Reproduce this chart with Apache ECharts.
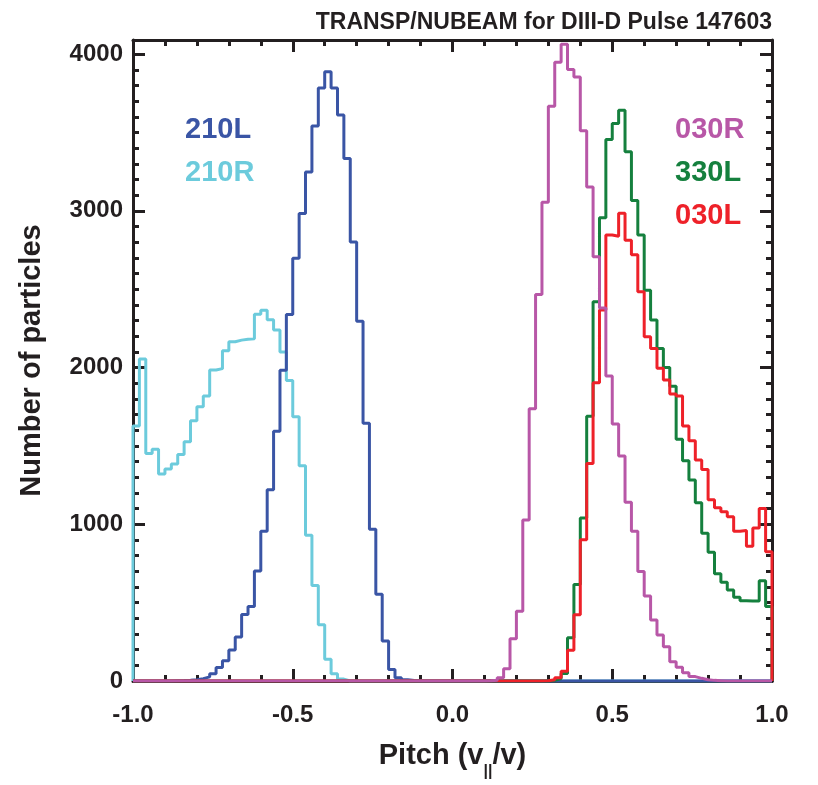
<!DOCTYPE html>
<html>
<head>
<meta charset="utf-8">
<script src="https://cdn.jsdelivr.net/npm/echarts@6/dist/echarts.min.js"></script>
<style>
html,body{margin:0;padding:0;background:#ffffff;}
#chart{width:818px;height:785px;}
</style>
</head>
<body>
<div id="chart"></div>
<script>
// ---- histogram binning (pitch from -1 to 1, 100 bins) ----
const binStart = -1.0;
const binWidth = 0.02;
const xTickLabels = ['-1.0', '-0.5', '0.0', '0.5', '1.0'];
const yTickLabels = ['0', '1000', '2000', '3000', '4000'];
const seriesNames = ['210R', '210L', '330L', '030L', '030R'];

// ---- counts per bin (index 0 = [-1.00,-0.98]) ----
const counts210R = [
  1627, 2054, 1452, 1478, 1321, 1352, 1384, 1446, 1527, 1661,
  1750, 1818, 1984, 1993, 2107, 2165, 2175, 2180, 2183, 2340,
  2365, 2305, 2240, 2100, 1918, 1686, 1373, 930, 610, 359,
  138, 47, 12, 0, 0, 0, 0, 0, 0, 0,
  0, 0, 0, 0, 0, 0, 0, 0, 0, 0,
  0, 0, 0, 0, 0, 0, 0, 0, 0, 0,
  0, 0, 0, 0, 0, 0, 0, 0, 0, 0,
  0, 0, 0, 0, 0, 0, 0, 0, 0, 0,
  0, 0, 0, 0, 0, 0, 0, 0, 0, 0,
  0, 0, 0, 0, 0, 0, 0, 0, 0, 0
];
const counts210L = [
  0, 0, 0, 0, 0, 0, 2, 3, 5, 8,
  15, 26, 47, 86, 130, 198, 281, 424, 476, 702,
  956, 1221, 1593, 1983, 2339, 2697, 2983, 3248, 3542, 3784,
  3888, 3784, 3612, 3334, 2801, 2295, 1645, 969, 554, 255,
  73, 21, 8, 3, 0, 0, 0, 0, 0, 0,
  0, 0, 0, 0, 0, 0, 0, 0, 0, 0,
  0, 0, 0, 0, 0, 0, 0, 0, 0, 0,
  0, 0, 0, 0, 0, 0, 0, 0, 0, 0,
  0, 0, 0, 0, 0, 0, 0, 0, 0, 0,
  0, 0, 0, 0, 0, 0, 0, 0, 0, 0
];
const counts030R = [
  0, 0, 0, 0, 0, 0, 0, 0, 0, 0,
  0, 0, 0, 0, 0, 0, 0, 0, 0, 0,
  0, 0, 0, 0, 0, 0, 0, 0, 0, 0,
  0, 0, 0, 0, 0, 0, 0, 0, 0, 0,
  0, 0, 0, 0, 0, 0, 0, 0, 0, 0,
  0, 0, 0, 0, 0, 2, 5, 20, 78, 270,
  445, 1027, 1737, 2466, 3055, 3667, 3948, 4063, 3902, 3854,
  3511, 3152, 2707, 2380, 1946, 1640, 1436, 1140, 956, 698,
  542, 389, 293, 219, 123, 87, 53, 28, 17, 8,
  4, 2, 0, 0, 0, 0, 0, 0, 0, 0
];
const counts330L = [
  0, 0, 0, 0, 0, 0, 0, 0, 0, 0,
  0, 0, 0, 0, 0, 0, 0, 0, 0, 0,
  0, 0, 0, 0, 0, 0, 0, 0, 0, 0,
  0, 0, 0, 0, 0, 0, 0, 0, 0, 0,
  0, 0, 0, 0, 0, 0, 0, 0, 0, 0,
  0, 0, 0, 0, 0, 0, 0, 0, 0, 0,
  0, 0, 0, 0, 0, 5, 16, 48, 276, 616,
  1040, 1689, 2420, 2956, 3455, 3558, 3642, 3377, 3066, 2845,
  2494, 2303, 2122, 2000, 1880, 1542, 1406, 1282, 1138, 942,
  822, 685, 630, 580, 535, 512, 510, 510, 640, 476
];
const counts030L = [
  0, 0, 0, 0, 0, 0, 0, 0, 0, 0,
  0, 0, 0, 0, 0, 0, 0, 0, 0, 0,
  0, 0, 0, 0, 0, 0, 0, 0, 0, 0,
  0, 0, 0, 0, 0, 0, 0, 0, 0, 0,
  0, 0, 0, 0, 0, 0, 0, 0, 0, 0,
  0, 0, 0, 0, 0, 0, 0, 0, 0, 0,
  0, 0, 0, 0, 2, 8, 21, 62, 196, 423,
  901, 1388, 1903, 2367, 2846, 2838, 2984, 2813, 2720, 2484,
  2197, 2122, 1995, 1920, 1831, 1818, 1627, 1533, 1410, 1350,
  1157, 1105, 1080, 1048, 955, 960, 860, 977, 1101, 825
];

const colors = {
  '210R': '#6ccbdc',
  '210L': '#3a55a5',
  '030R': '#b857a7',
  '330L': '#15803e',
  '030L': '#ee2129'
};
const countsByName = {
  '210R': counts210R, '210L': counts210L, '030R': counts030R,
  '330L': counts330L, '030L': counts030L
};

// histogram outline: left bin edge + count, closed down to zero at both ends
function histogramOutline(counts) {
  const pts = [[binStart, 0]];
  counts.forEach((c, i) => {
    pts.push([Math.round((binStart + i * binWidth) * 1000) / 1000, c]);
  });
  pts.push([Math.round((binStart + counts.length * binWidth) * 1000) / 1000, 0]);
  return pts;
}

const FONT = 'Liberation Sans, Arial, Helvetica, sans-serif';
const INK = '#231f20';

function xAxisDef(pos, withLabels) {
  return {
    type: 'value', position: pos, min: -1, max: 1, interval: 0.5,
    axisLine: { show: true, onZero: false, lineStyle: { color: INK, width: 3 } },
    axisTick: { show: true, inside: true, length: 12, lineStyle: { color: INK, width: 3 } },
    minorTick: { show: true, splitNumber: 5, length: 6, lineStyle: { color: INK, width: 3 } },
    splitLine: { show: false }, minorSplitLine: { show: false },
    axisLabel: withLabels ? {
      show: true, margin: 22, color: INK, fontFamily: FONT, fontWeight: 'bold', fontSize: 24,
      formatter: function (v) {
        const idx = Math.round((v + 1) / 0.5);
        return xTickLabels[idx] !== undefined ? xTickLabels[idx] : '';
      }
    } : { show: false },
    name: withLabels ? 'Pitch (v{sub|||}/v)' : '',
    nameLocation: 'middle', nameGap: 51,
    nameTextStyle: {
      color: INK, fontFamily: FONT, fontWeight: 'bold', fontSize: 29,
      lineHeight: 30, verticalAlign: 'top',
      rich: {
        sub: { fontFamily: FONT, fontWeight: 'bold', fontSize: 16, color: INK,
               lineHeight: 48, verticalAlign: 'bottom' }
      }
    }
  };
}

function yAxisDef(pos, major, withLabels) {
  return {
    type: 'value', position: pos, min: 0, max: 4090, interval: major ? 1000 : 100,
    axisLine: { show: major, onZero: false, lineStyle: { color: INK, width: 3 } },
    axisTick: { show: true, inside: true, length: major ? 12 : 6, lineStyle: { color: INK, width: 3 } },
    minorTick: { show: false },
    splitLine: { show: false },
    axisLabel: withLabels ? {
      show: true, margin: 10, color: INK, fontFamily: FONT, fontWeight: 'bold', fontSize: 24,
      showMaxLabel: false,
      formatter: function (v) {
        const idx = Math.round(v / 1000);
        return (Math.abs(v - idx * 1000) < 1e-6 && yTickLabels[idx] !== undefined) ? yTickLabels[idx] : '';
      }
    } : { show: false },
    name: withLabels ? 'Number of particles' : '',
    nameLocation: 'middle', nameGap: 87, nameRotate: 90,
    nameTextStyle: { color: INK, fontFamily: FONT, fontWeight: 'bold', fontSize: 29 }
  };
}

const series = seriesNames.map(name => ({
  name: name,
  type: 'line',
  step: 'end',
  xAxisIndex: 0, yAxisIndex: 0,
  showSymbol: false, symbol: 'none',
  lineStyle: { color: colors[name], width: 3 },
  itemStyle: { color: colors[name] },
  emphasis: { disabled: true },
  data: histogramOutline(countsByName[name])
}));

function legendDef(names, left) {
  return {
    orient: 'vertical', left: left, top: 110, itemGap: 14,
    icon: 'none', itemWidth: 0, itemHeight: 0, selectedMode: false,
    textStyle: { fontFamily: FONT, fontWeight: 'bold', fontSize: 29 },
    data: names.map(n => ({ name: n, textStyle: { color: colors[n] } }))
  };
}

const chart = echarts.init(document.getElementById('chart'), null, { renderer: 'canvas' });
chart.setOption({
  backgroundColor: '#ffffff',
  animation: false,
  title: {
    text: 'TRANSP/NUBEAM for DIII-D Pulse 147603',
    right: 41, top: 6,
    textStyle: { color: INK, fontFamily: FONT, fontWeight: 'bold', fontSize: 23 }
  },
  legend: [legendDef(['210L', '210R'], 175), legendDef(['030R', '330L', '030L'], 665)],
  grid: { left: 133, right: 46, top: 40, bottom: 104, containLabel: false, outerBoundsMode: 'none' },
  xAxis: [xAxisDef('bottom', true), xAxisDef('top', false)],
  yAxis: [yAxisDef('left', true, true), yAxisDef('left', false, false),
          yAxisDef('right', true, false), yAxisDef('right', false, false)],
  series: series
});
</script>
</body>
</html>
